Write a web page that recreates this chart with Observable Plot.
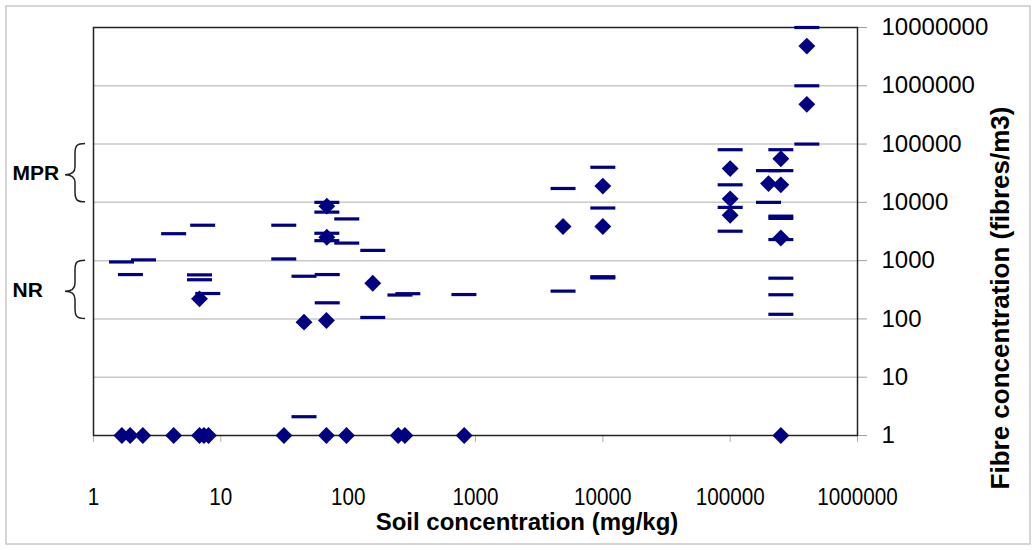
<!DOCTYPE html>
<html><head><meta charset="utf-8">
<script src="https://cdn.jsdelivr.net/npm/d3@7"></script>
<script src="https://cdn.jsdelivr.net/npm/@observablehq/plot@0.6"></script>
<style>
body{margin:0;background:#fff;}
svg{display:block;font-family:"Liberation Sans",Arial,sans-serif;}
</style>
</head><body><div id="chart"></div>
<script>
// Measured values (diamonds)
const diamondX = [1.67, 1.94, 2.44, 4.26, 6.8, 7.37, 8.0, 31.3, 67.5, 97, 247, 279, 815, 250000,
  6.8, 45, 67.5, 68, 68, 156, 4870, 10000, 10000, 100000, 100000, 100000,
  250000, 200000, 250000, 250000, 400000, 400000];
const diamondY = [1, 1, 1, 1, 1, 1, 1, 1, 1, 1, 1, 1, 1, 1,
  221, 88, 94, 8600, 2520, 410, 3850, 19000, 3850, 38000, 11500, 6000,
  56000, 21000, 20000, 2450, 4800000, 480000];
// Measured values (dashes)
const dashX = [1.66, 2.47, 1.95, 4.26, 7.2, 6.8, 6.8, 7.9, 31.2, 31.2, 45, 68.5, 68.5, 68, 68, 68, 68,
  97.5, 97.5, 156, 156, 255, 294, 811, 45, 4870, 4870, 10000, 10000, 10000, 10000,
  100000, 100000, 100000, 100000, 250000, 200000, 250000, 200000, 250000, 250000, 250000, 250000,
  250000, 250000, 400000, 400000, 400000];
const dashY = [950, 1030, 577, 2900, 4050, 570, 470, 273, 4050, 1070, 540, 577, 189, 10000, 6800, 2950, 2200,
  5200, 2000, 1500, 106, 257, 271, 262, 2.1, 17300, 300, 40000, 8000, 530, 505,
  80000, 20000, 8200, 3200, 80000, 35000, 35000, 10000, 5800, 5300, 2300, 500,
  260, 120, 10000000, 1000000, 100000];
const xTicks = [1, 10, 100, 1000, 10000, 100000, 1000000];
const yTicks = [1, 10, 100, 1000, 10000, 100000, 1000000, 10000000];
const xTitle = "Soil concentration (mg/kg)";
const yTitle = "Fibre concentration (fibres/m3)";
const bandLabels = ["MPR", "NR"];
const bandLow = [10000, 100];
const bandHigh = [100000, 1000];

const diamonds = diamondX.map((x, i) => ({x, y: diamondY[i]}));
const dashes = dashX.map((x, i) => ({x, y: dashY[i]}));
const bands = bandLabels.map((label, i) => ({label, low: bandLow[i], high: bandHigh[i], mid: Math.sqrt(bandLow[i] * bandHigh[i])}));

const navy = "#000080";
const dashSymbol = {draw(ctx) { ctx.moveTo(-12.5, -1.6); ctx.lineTo(12.5, -1.6); ctx.lineTo(12.5, 1.6); ctx.lineTo(-12.5, 1.6); ctx.closePath(); }};

const chart = Plot.plot({
  width: 1036, height: 550,
  marginLeft: 93, marginRight: 179, marginTop: 27, marginBottom: 115,
  x: {type: "log", domain: [1, 1e6]},
  y: {type: "log", domain: [1, 1e7]},
  style: {background: "white", fontFamily: "'Liberation Sans', Arial, sans-serif", color: "black"},
  marks: [
    Plot.gridY(yTicks.slice(1, -1), {stroke: "#c8c8c8", strokeOpacity: 1, strokeWidth: 1.5}),
    Plot.axisX(xTicks, {tickSize: 7, tickPadding: 45, stroke: "#b0b0b0", fill: "black", fontSize: 24, tickFormat: d => String(d), label: null}),
    Plot.axisY(yTicks, {anchor: "right", tickSize: 9, tickPadding: 15, stroke: "#a0a0a0", fill: "black", fontSize: 24, tickFormat: d => String(d), label: null}),
    Plot.frame({stroke: "#222", strokeWidth: 1.5}),
    Plot.dot(dashes, {x: "x", y: "y", symbol: dashSymbol, fill: navy, stroke: "none"}),
    Plot.dot(diamonds, {x: "x", y: "y", symbol: "diamond2", r: 7.6, fill: navy, stroke: "none"}),
    Plot.text(bands, {y: "mid", text: "label", frameAnchor: "left", textAnchor: "start", dx: -81, fontWeight: "bold", fontSize: 21})
  ]
});

// condense x tick labels like the reference
d3.select(chart).selectAll("[aria-label='x-axis tick label'] text").each(function() {
  const t = this.textContent;
  d3.select(this).attr("textLength", t.length * 11.5).attr("lengthAdjust", "spacingAndGlyphs");
});

const ys = chart.scale("y");
const svg = d3.select(chart);
svg.insert("rect", ":first-child").attr("x", 6).attr("y", 6).attr("width", 1024).attr("height", 538)
  .attr("fill", "none").attr("stroke", "#c8c8c8").attr("stroke-width", 1.5);

// axis titles
svg.append("text").attr("x", 527).attr("y", 522).attr("dy", "0.35em").attr("text-anchor", "middle")
  .attr("font-weight", "bold").attr("font-size", 24).attr("fill", "black").text(xTitle);
svg.append("text").attr("transform", "translate(1000,298) rotate(-90)").attr("dy", "0.35em").attr("text-anchor", "middle")
  .attr("font-weight", "bold").attr("font-size", 26).attr("fill", "black").text(yTitle);

// braces for MPR / NR
bands.forEach(b => {
  const top = ys.apply(b.high), bot = ys.apply(b.low), mid = (top + bot) / 2 + 2;
  const xe = 85, xs = 75, xt = 65;
  const d = `M${xe},${top} C${xs+2},${top} ${xs},${top+2} ${xs},${top+10} L${xs},${mid-8} C${xs},${mid-3} ${xs-3},${mid} ${xt},${mid} C${xs-3},${mid} ${xs},${mid+3} ${xs},${mid+8} L${xs},${bot-10} C${xs},${bot-2} ${xs+2},${bot} ${xe},${bot}`;
  svg.append("path").attr("d", d).attr("fill", "none").attr("stroke", "#222").attr("stroke-width", 1.5);
});

document.getElementById("chart").appendChild(chart);
</script>
</body></html>
